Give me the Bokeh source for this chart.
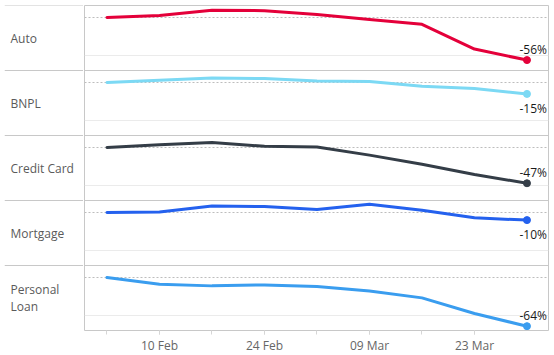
from datetime import datetime
import textwrap
from bokeh.plotting import figure
from bokeh.layouts import row
from bokeh.models import Range1d, FixedTicker, Span, DatetimeTickFormatter
from bokeh.core.properties import value
from bokeh.embed import file_html
from bokeh.resources import INLINE

# ---------------- data ----------------
weeks = ["2020-02-03", "2020-02-10", "2020-02-17", "2020-02-24", "2020-03-02",
         "2020-03-09", "2020-03-16", "2020-03-23", "2020-03-30"]
categories = ["Auto", "BNPL", "Credit Card", "Mortgage", "Personal Loan"]
auto = [0, 2.6, 9.5, 9.0, 4.0, -2.5, -9.0, -41.5, -56]
bnpl = [0, 3.0, 6.0, 5.3, 2.0, 1.3, -4.9, -7.9, -15]
credit_card = [0, 3.5, 6.5, 1.7, 0.8, -10.0, -22.0, -35.5, -47]
mortgage = [0, 0.8, 8.7, 7.9, 4.0, 11.0, 3.0, -7.0, -10]
personal_loan = [0, -8.8, -11.0, -9.7, -11.8, -17.6, -26.8, -47.4, -64]
series = [auto, bnpl, credit_card, mortgage, personal_loan]

tick_dates = ["2020-02-03", "2020-02-10", "2020-02-17", "2020-02-24",
              "2020-03-02", "2020-03-09", "2020-03-16", "2020-03-23"]
tick_labels = ["", "10 Feb", "", "24 Feb", "", "09 Mar", "", "23 Mar"]

colors = ["#E4003A", "#7CD9F4", "#343D47", "#2461EE", "#3A9DEF"]
label_side = ["above", "below", "above", "below", "above"]

# per-panel value axis (shared scale)
y_lo, y_hi = -69.7, 15.8

# ---------------- helpers ----------------
EPOCH = datetime(1970, 1, 1)


def ms(s):
    return (datetime.strptime(s, "%Y-%m-%d") - EPOCH).total_seconds() * 1000.0


DAY = 86400000.0
xs = [datetime.strptime(w, "%Y-%m-%d") for w in weeks]
x_start = ms(weeks[0]) - 3.0 * DAY
x_end = x_start + 61.87 * DAY

FONT = value("Open Sans")
BORDER = "#c8c8c8"

row_h = 65
top_pad = 5
n = len(categories)
FH = n * row_h

# ---------------- left label column ----------------
lab = figure(frame_width=79, frame_height=FH,
             x_range=Range1d(0, 79), y_range=Range1d(0, n),
             x_axis_location=None, y_axis_location=None,
             output_backend="svg", toolbar_location=None,
             min_border_left=4, min_border_right=0,
             min_border_top=top_pad, min_border_bottom=0)
lab.outline_line_color = None
lab.xgrid.visible = False
lab.ygrid.visible = False
for k in range(n + 1):
    lab.add_layout(Span(location=k, dimension="width", line_color=BORDER, line_width=1))
lab.text(x=[6] * n, y=[n - i - 0.5 for i in range(n)],
         text=["\n".join(textwrap.wrap(c, 12)) for c in categories],
         text_font=FONT, text_font_size="12px", text_color="#5a5a5a",
         text_align="left", text_baseline="middle", text_line_height=0.95)

# ---------------- panels (one frame, one y-range per panel) ----------------
p = figure(frame_width=464, frame_height=FH, x_axis_type="datetime",
           x_range=Range1d(x_start, x_end), y_range=Range1d(0, n),
           y_axis_location=None,
           output_backend="svg", toolbar_location=None,
           min_border_left=1, min_border_right=6,
           min_border_top=top_pad, min_border_bottom=0)
p.outline_line_color = BORDER
p.outline_line_width = 1
p.xgrid.visible = False
p.ygrid.visible = False
p.background_fill_color = "white"
p.border_fill_color = "white"

for k in range(1, n):
    p.add_layout(Span(location=k, dimension="width", line_color=BORDER,
                      line_width=1, level="underlay"))

R = y_hi - y_lo
for i, (cat, vals, col) in enumerate(zip(categories, series, colors)):
    name = f"panel{i}"
    p.extra_y_ranges[name] = Range1d(y_lo - (n - 1 - i) * R, y_hi + i * R)
    p.add_layout(Span(location=-50, dimension="width", line_color="#ebebeb",
                      line_width=1, level="underlay", y_range_name=name))
    p.add_layout(Span(location=0, dimension="width", line_color="#bdbdbd",
                      line_width=1, line_dash="2 2", level="underlay", y_range_name=name))
    p.line(xs, vals, line_color=col, line_width=3, line_join="round",
           line_cap="round", y_range_name=name)
    p.scatter([xs[-1]], [vals[-1]], size=7, fill_color=col, line_color=col,
              y_range_name=name)
    above = label_side[i] == "above"
    p.text(x=[xs[-1]], y=[vals[-1]], text=[f"{vals[-1]:.0f}%"],
           text_font=FONT, text_font_size="12px", text_color="#1a1a1a",
           text_align="right", text_baseline="middle",
           x_offset=20, y_offset=-10.5 if above else 14.5, y_range_name=name)

ax = p.xaxis[0]
labeled = [ms(d) for d, l in zip(tick_dates, tick_labels) if l]
ax.ticker = FixedTicker(ticks=labeled, minor_ticks=[ms(d) for d in tick_dates])
ax.formatter = DatetimeTickFormatter(days="%d %b", months="%d %b")
ax.major_label_overrides = {ms(d): l for d, l in zip(tick_dates, tick_labels) if l}
ax.axis_line_color = None
ax.major_tick_line_color = "#d6d6d6"
ax.minor_tick_line_color = "#d6d6d6"
ax.major_tick_in = 0
ax.major_tick_out = 4
ax.minor_tick_in = 0
ax.minor_tick_out = 4
ax.major_label_standoff = 2
ax.major_label_text_font = "Open Sans"
ax.major_label_text_font_size = "12px"
ax.major_label_text_color = "#666666"

layout = row(lab, p, spacing=0)
open("out.html", "w").write(file_html(layout, INLINE))
